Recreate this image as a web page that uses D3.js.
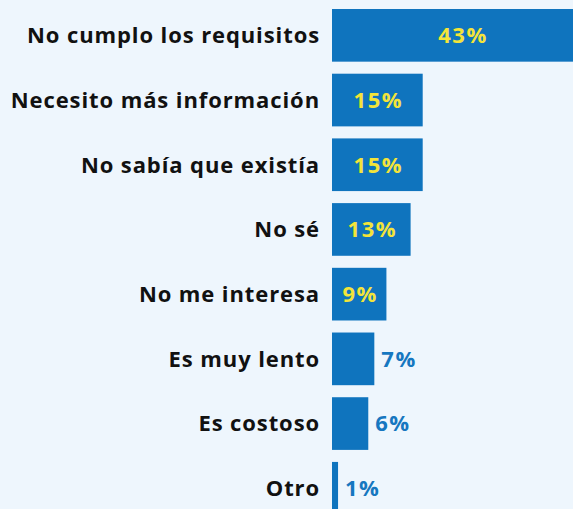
<!DOCTYPE html>
<html>
<head>
<meta charset="utf-8">
<script src="https://cdn.jsdelivr.net/npm/d3@7"></script>
<style>
  html, body { margin: 0; padding: 0; background: #eef6fd; }
  svg { display: block; }
</style>
</head>
<body>
<div id="chart"></div>
<script>
// Reasons (top to bottom) and percentages
var categories = ["No cumplo los requisitos", "Necesito más información", "No sabía que existía",
                  "No sé", "No me interesa", "Es muy lento", "Es costoso", "Otro"];
var values = [43, 15, 15, 13, 9, 7, 6, 1];
var valueLabels = ["43%", "15%", "15%", "13%", "9%", "7%", "6%", "1%"];

var width = 573, height = 509;
var barLeft = 332;

var data = categories.map(function(c, i) { return {cat: c, value: values[i], label: valueLabels[i]}; });

var svg = d3.select("#chart")
  .append("svg")
  .attr("width", width)
  .attr("height", height);

svg.append("rect")
  .attr("width", width)
  .attr("height", height)
  .attr("fill", "#eef6fd");

var x = d3.scaleLinear()
  .domain([0, 43])
  .range([barLeft, barLeft + 260]);

var y = d3.scaleBand()
  .domain(categories)
  .range([9, 514.6])
  .paddingInner(0.186)
  .paddingOuter(0);

// labels on the left
svg.append("g")
  .selectAll("text")
  .data(data)
  .join("text")
    .attr("x", barLeft - 12)
    .attr("y", d => y(d.cat) + y.bandwidth() / 2)
    .attr("dy", "0.36em")
    .attr("text-anchor", "end")
    .attr("font-family", "'Open Sans', sans-serif")
    .attr("font-weight", 700)
    .attr("font-size", "22px")
    .attr("letter-spacing", "0.9px")
    .attr("fill", "#111")
    .text(d => d.cat);

svg.append("g")
  .selectAll("rect")
  .data(data)
  .join("rect")
    .attr("x", x(0))
    .attr("y", d => y(d.cat))
    .attr("width", d => x(d.value) - x(0))
    .attr("height", y.bandwidth())
    .attr("fill", "#0f74be");

// value labels: inside (yellow) for big bars, outside (blue) for small ones
var inside = d => d.value >= 9;
svg.append("g")
  .selectAll("text")
  .data(data)
  .join("text")
    .attr("x", d => inside(d) ? (x(0) + x(d.value)) / 2 + 1 : x(d.value) + 7)
    .attr("y", d => y(d.cat) + y.bandwidth() / 2)
    .attr("dy", "0.36em")
    .attr("text-anchor", d => inside(d) ? "middle" : "start")
    .attr("font-family", "'Open Sans', sans-serif")
    .attr("font-weight", 700)
    .attr("font-size", "22px")
    .attr("letter-spacing", "1.5px")
    .attr("fill", d => inside(d) ? "#f3e43a" : "#1677c0")
    .text(d => d.label);
</script>
</body>
</html>
